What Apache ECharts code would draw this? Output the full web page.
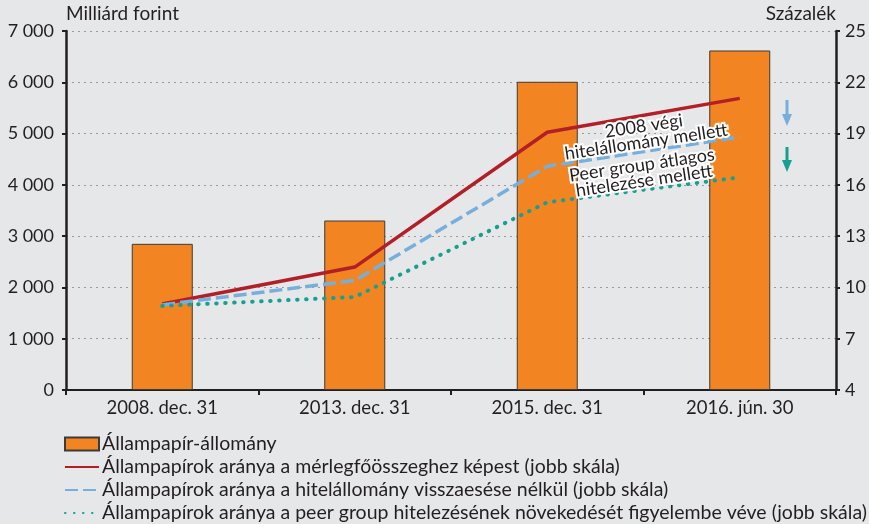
<!DOCTYPE html>
<html>
<head>
<meta charset="utf-8">
<style>
  html, body { margin: 0; padding: 0; background: #e6e7e8; }
  #chart { width: 869px; height: 524px; }
</style>
</head>
<body>
<div id="chart"></div>
<script src="https://cdn.jsdelivr.net/npm/echarts@6/dist/echarts.min.js"></script>
<script>
// adatok
var categories = ['2008. dec. 31', '2013. dec. 31', '2015. dec. 31', '2016. jún. 30'];
var allampapir = [2850, 3305, 6010, 6620];          // Milliárd forint
var aranyMerleg = [9.03, 11.19, 19.08, 21.06];     // Százalék
var aranyHitel = [8.98, 10.41, 17.09, 18.8];
var aranyPeer = [8.92, 9.44, 14.98, 16.44];

var names = [
  'Állampapír-állomány',
  'Állampapírok aránya a mérlegfőösszeghez képest (jobb skála)',
  'Állampapírok aránya a hitelállomány visszaesése nélkül (jobb skála)',
  'Állampapírok aránya a peer group hitelezésének növekedését figyelembe véve (jobb skála)'
];

var font = 'Lato';
var txt = '#231f20';

function ezres(v) {
  return String(v).replace(/\B(?=(\d{3})+(?!\d))/g, ' ');
}

var chart = echarts.init(document.getElementById('chart'));

var option = {
  backgroundColor: '#e6e7e8',
  textStyle: { fontFamily: font, color: txt },
  animation: false,
  grid: { left: 66, right: 33, top: 31, bottom: 134 },
  legend: {
    orient: 'vertical',
    left: 64,
    top: 434,
    height: 150,
    padding: 0,
    itemGap: 3,
    itemWidth: 34,
    itemHeight: 13,
    textStyle: { fontFamily: font, fontSize: 19.5, color: txt, padding: [0, 0, 0, -2] },
    data: [
      { name: names[0], icon: 'rect' },
      { name: names[1], itemStyle: { opacity: 0 } },
      { name: names[2], itemStyle: { opacity: 0 } },
      { name: names[3], itemStyle: { opacity: 0 } }
    ]
  },
  xAxis: {
    type: 'category',
    data: categories,
    axisLine: { lineStyle: { color: '#231f20', width: 2 } },
    axisTick: { show: true, length: 5, interval: 0, lineStyle: { color: '#231f20', width: 2 } },
    axisLabel: { fontFamily: font, fontSize: 18.5, color: txt, margin: 9 }
  },
  yAxis: [
    {
      type: 'value',
      min: 0, max: 7000, interval: 1000,
      name: 'Milliárd forint',
      nameLocation: 'end',
      nameGap: 8,
      nameTextStyle: { fontFamily: font, fontSize: 19, color: txt, align: 'left' },
      axisLine: { show: true, lineStyle: { color: '#231f20', width: 2.5 } },
      axisTick: { show: true, length: 4, lineStyle: { color: '#231f20', width: 2 } },
      axisLabel: { fontFamily: font, fontSize: 18, color: txt, margin: 12, formatter: ezres },
      splitLine: { show: true, lineStyle: { color: '#9a9a9a', width: 1, type: [2, 4] } }
    },
    {
      type: 'value',
      min: 4, max: 25, interval: 3,
      name: 'Százalék',
      nameLocation: 'end',
      nameGap: 8,
      nameTextStyle: { fontFamily: font, fontSize: 19, color: txt, align: 'right' },
      axisLine: { show: true, lineStyle: { color: '#231f20', width: 2.5 } },
      axisTick: { show: true, length: 4, lineStyle: { color: '#231f20', width: 2 } },
      axisLabel: { fontFamily: font, fontSize: 18, color: txt, margin: 9 },
      splitLine: { show: false }
    }
  ],
  series: [
    {
      name: names[0],
      type: 'bar',
      data: allampapir,
      barWidth: 61,
      itemStyle: { color: '#f28521', borderColor: '#3b3b3b', borderWidth: 1 }
    },
    {
      name: names[1],
      type: 'line',
      yAxisIndex: 1,
      data: aranyMerleg,
      symbol: 'none',
      itemStyle: { color: '#b21f27' },
      lineStyle: { color: '#b21f27', width: 3.5 }
    },
    {
      name: names[2],
      type: 'line',
      yAxisIndex: 1,
      data: aranyHitel,
      symbol: 'none',
      itemStyle: { color: '#76afdc' },
      lineStyle: { color: '#76afdc', width: 3.5, type: [13, 5] }
    },
    {
      name: names[3],
      type: 'line',
      yAxisIndex: 1,
      data: aranyPeer,
      symbol: 'none',
      itemStyle: { color: '#17a092' },
      lineStyle: { color: '#17a092', width: 4, type: [0.5, 8.5], cap: 'round' }
    }
  ],
  graphic: [
    {
      type: 'text', x: 645, y: 134, rotation: 0.148, z: 100,
      style: {
        text: '2008 végi\nhitelállomány mellett', fontFamily: font, fontSize: 18, lineHeight: 16,
        fill: txt, align: 'center', verticalAlign: 'middle', stroke: '#ffffff', lineWidth: 4
      }
    },
    {
      type: 'text', x: 643, y: 173, rotation: 0.148, z: 100,
      style: {
        text: 'Peer group átlagos\nhitelezése mellett', fontFamily: font, fontSize: 18, lineHeight: 16,
        fill: txt, align: 'center', verticalAlign: 'middle', stroke: '#ffffff', lineWidth: 4
      }
    },
    { type: 'line', z: 100, shape: { x1: 787, y1: 100, x2: 787, y2: 116 }, style: { stroke: '#76afdc', lineWidth: 3 } },
    { type: 'polygon', z: 100, shape: { points: [[782, 114], [792, 114], [787, 126]] }, style: { fill: '#76afdc' } },
    { type: 'line', z: 100, shape: { x1: 787, y1: 147, x2: 787, y2: 162 }, style: { stroke: '#17a092', lineWidth: 3 } },
    { type: 'polygon', z: 100, shape: { points: [[782, 160], [792, 160], [787, 172]] }, style: { fill: '#17a092' } }
  ]
};

chart.setOption(option);
</script>
</body>
</html>
